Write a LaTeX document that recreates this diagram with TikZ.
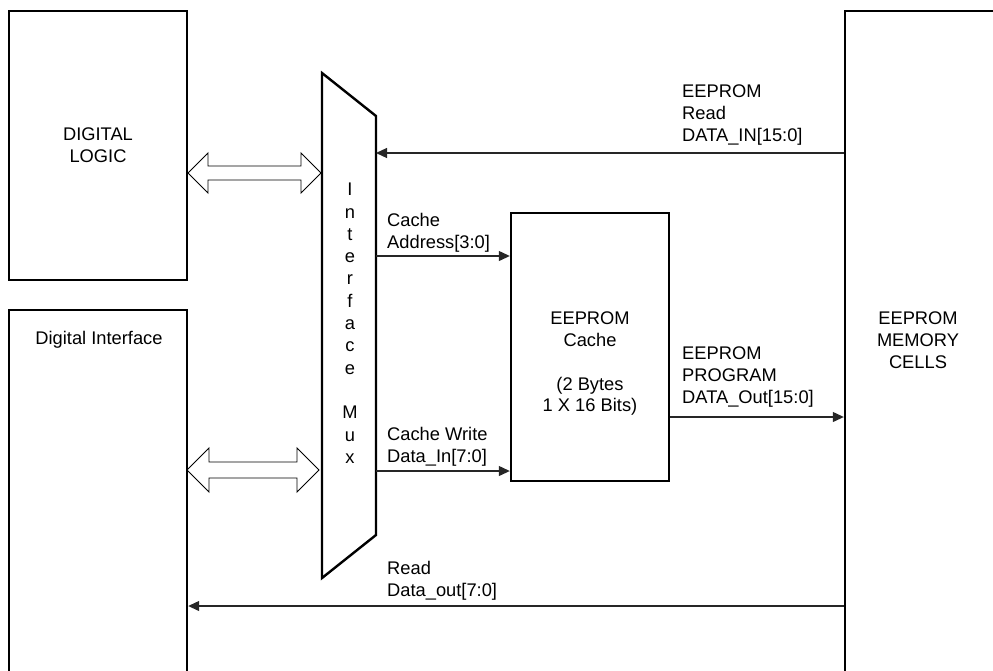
\documentclass[tikz,border=0pt]{standalone}
\usepackage{fontspec}
\setmainfont{Liberation Sans}
\usetikzlibrary{arrows.meta}
\tikzset{
  x=1pt, y=-1pt,
  blk/.style={draw=black, line width=2.4pt, inner sep=0pt},
  txt/.style={inner sep=0pt, font=\fontsize{18.3}{21.7}\selectfont},
  conn/.style={draw=black!85, line width=1.2pt, -{Triangle[length=11pt,width=10pt]}},
  dbl/.style={draw=black, line width=0.9pt, fill=white, line join=miter},
}
\begin{document}
\begin{tikzpicture}
\useasboundingbox (0,0) rectangle (993,670);
\clip (0,0) rectangle (993,670);
% boxes
\node[blk, minimum width=178pt, minimum height=269pt] (logic) at (98,145.5) {};
\node[txt, align=center] (logictxt) at (98,145.5) {DIGITAL\\LOGIC};
\node[blk, minimum width=178pt, minimum height=400pt] (iface) at (98,510) {};
\node[txt, anchor=north] (ifacetxt) at (99,331) {Digital Interface};
\node[blk, minimum width=200pt, minimum height=700pt] (mem) at (945,361) {};
\node[txt, align=center, anchor=north] (memtxt) at (918,312) {EEPROM\\MEMORY\\CELLS};
\node[blk, minimum width=158pt, minimum height=268pt] (cache) at (590,347) {};
\node[txt, align=center, anchor=north] (cachetxt) at (590,312) {EEPROM\\Cache\\[21.7pt](2 Bytes\\1 X 16 Bits)};
% mux
\coordinate (muxTL) at (322,73);
\coordinate (muxTR) at (376,116);
\coordinate (muxBR) at (376,535);
\coordinate (muxBL) at (322,578);
\draw[line width=2.4pt, line join=miter] (muxTL) -- (muxTR) -- (muxBR) -- (muxBL) -- cycle;
\node[txt, align=center, anchor=north, font=\fontsize{18.3}{22.3}\selectfont] (muxtxt) at (350,183)
  {I\\n\\t\\e\\r\\f\\a\\c\\e\\[22.3pt]M\\u\\x};
% double arrows
\draw[dbl] (188,173) -- (208,153) -- (208,166) -- (301,166) -- (301,153) -- (321,173)
  -- (301,193) -- (301,180) -- (208,180) -- (208,193) -- cycle;
\draw[dbl] (187,470) -- (209,448) -- (209,462) -- (297,462) -- (297,448) -- (319,470)
  -- (297,492) -- (297,478) -- (209,478) -- (209,492) -- cycle;
% connectors
\draw[conn] (mem.west |- 0,153) -- (muxTR |- 0,153);
\draw[conn] (muxTR |- 0,256) -- (cache.west |- 0,256);
\draw[conn] (muxTR |- 0,471) -- (cache.west |- 0,471);
\draw[conn] (cache.east |- 0,417) -- (mem.west |- 0,417);
\draw[conn] (mem.west |- 0,606) -- (iface.east |- 0,606);
% labels
\node[txt, align=left, anchor=north west] (lblin) at (682,85) {EEPROM\\Read\\DATA\_IN[15:0]};
\node[txt, align=left, anchor=north west] (lblprog) at (682,347) {EEPROM\\PROGRAM\\DATA\_Out[15:0]};
\node[txt, align=left, anchor=north west] (lbladdr) at (387,213) {Cache\\Address[3:0]};
\node[txt, align=left, anchor=north west] (lblwr) at (387,427) {Cache Write\\Data\_In[7:0]};
\node[txt, align=left, anchor=north west] (lblrd) at (387,561) {Read\\Data\_out[7:0]};
\end{tikzpicture}
\end{document}
